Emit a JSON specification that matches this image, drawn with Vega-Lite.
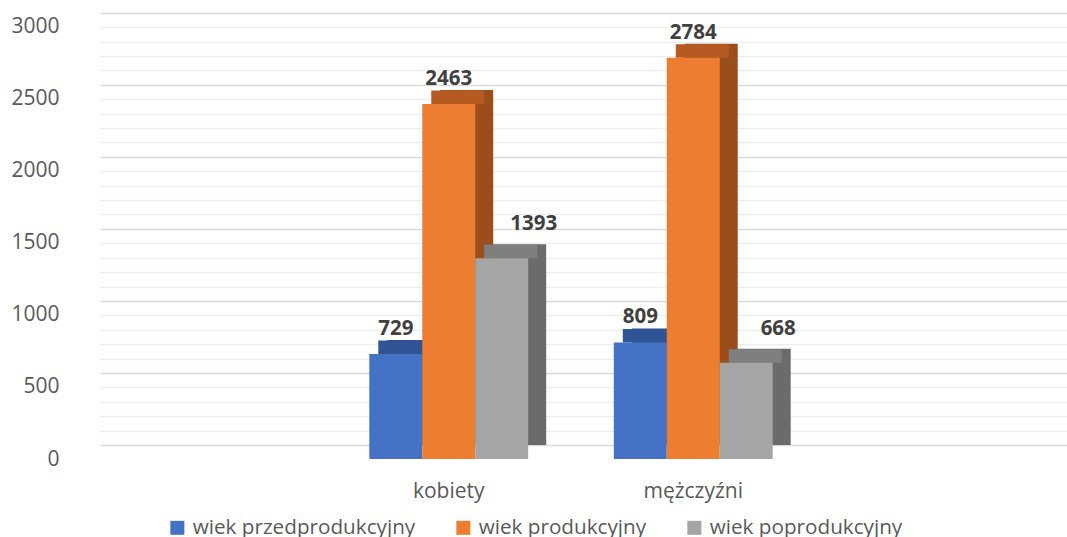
{
  "$schema": "https://vega.github.io/schema/vega-lite/v6.json",
  "autosize": {"type": "none"},
  "padding": {"left": 100, "top": 12, "right": 0, "bottom": 78},
  "width": 967,
  "height": 447,
  "background": "white",
  "config": {"view": {"stroke": null}, "font": "Open Sans"},
  "data": {
    "values": [
      {"cat": "kobiety", "series": "wiek przedprodukcyjny", "value": 729},
      {"cat": "kobiety", "series": "wiek produkcyjny", "value": 2463},
      {"cat": "kobiety", "series": "wiek poprodukcyjny", "value": 1393},
      {"cat": "mężczyźni", "series": "wiek przedprodukcyjny", "value": 809},
      {"cat": "mężczyźni", "series": "wiek produkcyjny", "value": 2784},
      {"cat": "mężczyźni", "series": "wiek poprodukcyjny", "value": 668}
    ]
  },
  "encoding": {
    "xOffset": {
      "field": "series",
      "type": "nominal",
      "sort": null,
      "scale": {"domain": ["wiek przedprodukcyjny", "wiek produkcyjny", "wiek poprodukcyjny"], "paddingInner": 0, "paddingOuter": 0.808}
    }
  },
  "layer": [
    {
      "mark": {"type": "bar", "opacity": 0},
      "encoding": {
        "x": {
          "field": "cat", "type": "nominal", "sort": null,
          "scale": {"domain": [" ", "kobiety", "mężczyźni", "  "], "range": [0, 967], "paddingInner": 0, "paddingOuter": 0},
          "axis": null
        },
        "y": {
          "field": "value",
          "type": "quantitative",
          "scale": {"domain": [-97, 3005], "nice": false, "zero": false},
          "axis": {
            "title": null,
            "orient": "right",
            "labels": false,
            "ticks": false,
            "domain": false,
            "grid": true,
            "values": [0,100,200,300,400,500,600,700,800,900,1000,1100,1200,1300,1400,1500,1600,1700,1800,1900,2000,2100,2200,2300,2400,2500,2600,2700,2800,2900,3000],
            "gridColor": {"condition": {"test": "datum.value % 500 === 0", "value": "#D9D9D9"}, "value": "#EDEDED"},
            "gridWidth": {"condition": {"test": "datum.value % 500 === 0", "value": 1.6}, "value": 1.3}
          }
        },
        "y2": {"datum": 0}
      }
    },
    {
      "mark": {"type": "bar"},
      "encoding": {
        "x": {
          "field": "cat", "type": "nominal", "sort": null,
          "scale": {"domain": [" ", "kobiety", "mężczyźni", "  "], "range": [0, 978], "paddingInner": 0, "paddingOuter": 0},
          "axis": null
        },
        "y": {
          "field": "value",
          "type": "quantitative",
          "scale": {"domain": [-97, 3005], "nice": false, "zero": false},
          "axis": null
        },
        "y2": {"datum": 0},
        "color": {
          "field": "series",
          "type": "nominal",
          "sort": null,
          "scale": {"domain": ["wiek przedprodukcyjny", "wiek produkcyjny", "wiek poprodukcyjny"], "range": ["#2D4E8B", "#9C4D1C", "#6B6B6B"]},
          "legend": null
        }
      }
    },
    {
      "encoding": {
        "y": {
          "field": "value",
          "type": "quantitative",
          "scale": {"domain": [0, 3102], "nice": false},
          "axis": {
            "title": null,
            "orient": "left",
            "grid": false,
            "domain": false,
            "ticks": false,
            "values": [0, 500, 1000, 1500, 2000, 2500, 3000],
            "format": "d",
            "labelFontSize": 21,
            "labelColor": "#595959",
            "labelPadding": 41,
            "labelFont": "Open Sans"
          }
        }
      },
      "layer": [
        {
          "mark": {"type": "bar", "yOffset": -13.5, "y2Offset": 0},
          "encoding": {
            "x": {
              "field": "cat", "type": "nominal", "sort": null,
              "scale": {"domain": [" ", "kobiety", "mężczyźni", "  "], "range": [-9, 969], "paddingInner": 0, "paddingOuter": 0},
              "axis": null
            },
            "y2": {"field": "value"},
            "color": {
              "field": "series",
              "type": "nominal",
              "sort": null,
              "scale": {"domain": ["wiek przedprodukcyjny", "wiek produkcyjny", "wiek poprodukcyjny"], "range": ["#2F5597", "#B55A22", "#7F7F7F"]},
              "legend": null
            }
          }
        },
        {
          "mark": {"type": "bar"},
          "encoding": {
            "x": {
              "field": "cat", "type": "nominal", "sort": null,
              "scale": {"domain": [" ", "kobiety", "mężczyźni", "  "], "range": [-18, 960], "paddingInner": 0, "paddingOuter": 0},
              "axis": {"title": null, "domain": false, "ticks": false, "labelAngle": 0, "labelFontSize": 21, "labelColor": "#595959", "labelPadding": 38, "labelBaseline": "alphabetic", "labelFont": "Open Sans"}
            },
            "y2": {"datum": 0},
            "color": {
              "field": "series",
              "type": "nominal",
              "sort": null,
              "scale": {"domain": ["wiek przedprodukcyjny", "wiek produkcyjny", "wiek poprodukcyjny"], "range": ["#4472C4", "#ED7D31", "#A5A5A5"]},
              "legend": {
                "title": null,
                "orient": "none",
                "legendX": 67,
                "legendY": 505,
                "direction": "horizontal",
                "symbolType": "square",
                "symbolSize": 196,
                "symbolStrokeWidth": 0,
                "labelFontSize": 20.7,
                "labelColor": "#595959",
                "labelFont": "Open Sans",
                "labelOffset": 5,
                "columnPadding": 37,
                "labelLimit": 400
              }
            }
          }
        },
        {
          "transform": [{"filter": "datum.series !== 'wiek poprodukcyjny'"}],
          "mark": {"type": "text", "dy": -19, "baseline": "alphabetic", "align": "center", "fontSize": 20.5, "fontWeight": "bold", "color": "#404040", "font": "Open Sans"},
          "encoding": {
            "x": {
              "field": "cat", "type": "nominal", "sort": null,
              "scale": {"domain": [" ", "kobiety", "mężczyźni", "  "], "range": [-18, 960], "paddingInner": 0, "paddingOuter": 0},
              "axis": null
            },
            "text": {"field": "value", "type": "quantitative", "format": "d"}
          }
        },
        {
          "transform": [{"filter": "datum.series === 'wiek poprodukcyjny'"}],
          "mark": {"type": "text", "dy": -28, "dx": 32, "baseline": "alphabetic", "align": "center", "fontSize": 20.5, "fontWeight": "bold", "color": "#404040", "font": "Open Sans"},
          "encoding": {
            "x": {
              "field": "cat", "type": "nominal", "sort": null,
              "scale": {"domain": [" ", "kobiety", "mężczyźni", "  "], "range": [-18, 960], "paddingInner": 0, "paddingOuter": 0},
              "axis": null
            },
            "text": {"field": "value", "type": "quantitative", "format": "d"}
          }
        }
      ],
      "resolve": {"scale": {"color": "independent", "x": "independent"}, "axis": {"x": "independent"}}
    }
  ],
  "resolve": {"scale": {"y": "independent", "color": "independent", "x": "independent", "xOffset": "independent"}, "axis": {"y": "independent", "x": "independent"}}
}
